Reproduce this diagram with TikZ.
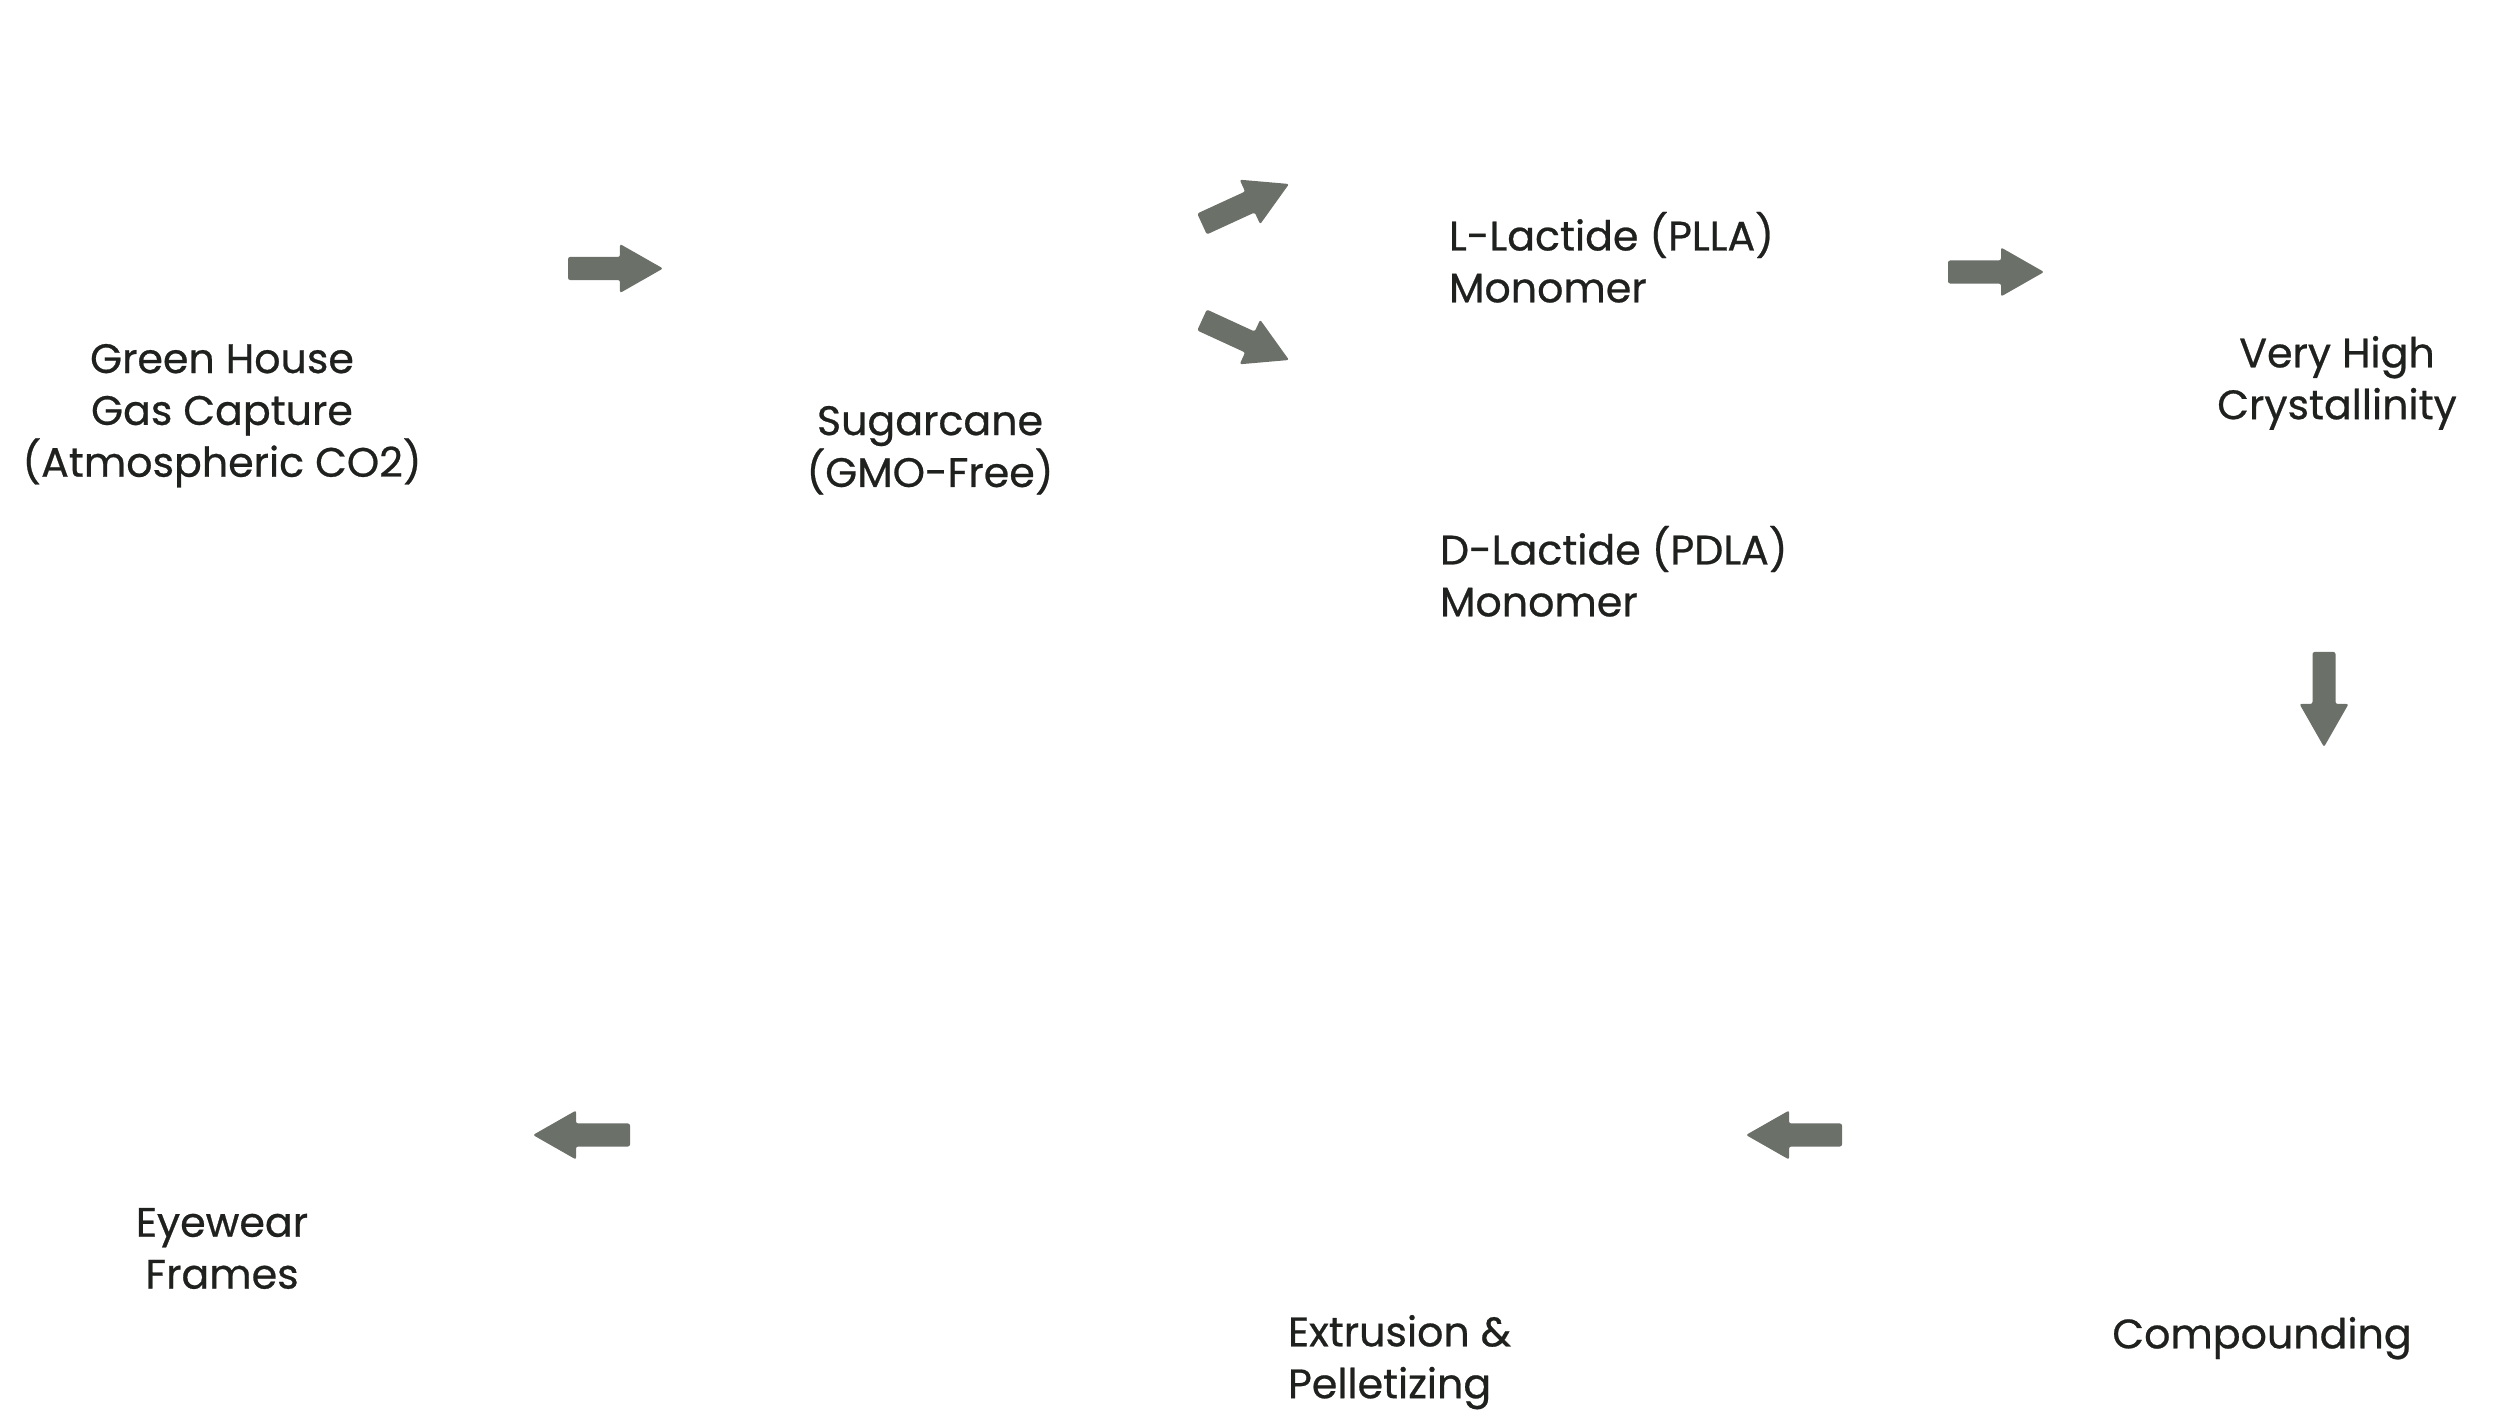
\documentclass[tikz,border=0pt]{standalone}
\usepackage{fontspec}
\setmainfont{Poppins}[FakeBold=0.6]
\usetikzlibrary{calc}
\definecolor{arrowgray}{HTML}{6B7069}
\definecolor{textdark}{HTML}{1F211E}
\newcommand{\fatarrow}[2]{%
  \fill[arrowgray, rounded corners=0.6pt]
    ($(#1)!0.115cm!90:(#2)$) --
    ($($(#2)!0.43cm!(#1)$)!0.115cm!-90:(#1)$) --
    ($($(#2)!0.43cm!(#1)$)!0.245cm!-90:(#1)$) --
    (#2) --
    ($($(#2)!0.43cm!(#1)$)!0.245cm!90:(#1)$) --
    ($($(#2)!0.43cm!(#1)$)!0.115cm!90:(#1)$) --
    ($(#1)!0.115cm!-90:(#2)$) -- cycle;}
\begin{document}
\begin{tikzpicture}[x=0.01cm,y=-0.01cm,
  lbl/.style={inner sep=0pt, outer sep=0pt, text=textdark,
    font=\fontsize{11.7pt}{14.75pt}\selectfont},
  lblc/.style={lbl, align=center, anchor=north},
  lbll/.style={lbl, align=left, anchor=north west}]
\useasboundingbox[fill=white] (0,0) rectangle (2500,1428);

\node[lblc] (ghg) at (222,344) {Green House\\Gas Capture\\(Atmospheric CO2)};
\node[lblc] (sug) at (930,406) {Sugarcane\\(GMO-Free)};
\node[lbll] (plla) at (1449,212) {L-Lactide (PLLA)\\Monomer};
\node[lbll] (pdla) at (1440,526) {D-Lactide (PDLA)\\Monomer};
\node[lblc] (vhc) at (2337,336) {Very High\\Crystallinity};
\node[lblc] (comp) at (2262,1317) {Compounding};
\node[lbll] (ext) at (1288,1315) {Extrusion \&\\Pelletizing};
\node[lblc] (eye) at (222,1208) {Eyewear\\Frames};

\coordinate (a1t) at (568,268.5);  \coordinate (a1h) at (663,268.5);
\coordinate (a2t) at (1202,224);   \coordinate (a2h) at (1289,184);
\coordinate (a3t) at (1202,320);   \coordinate (a3h) at (1289,360);
\coordinate (a4t) at (1948,272);   \coordinate (a4h) at (2044,272);
\coordinate (a5t) at (2324,652);   \coordinate (a5h) at (2324,747);
\coordinate (a6t) at (1842,1135);  \coordinate (a6h) at (1746,1135);
\coordinate (a7t) at (630,1135);   \coordinate (a7h) at (533,1135);

\fatarrow{a1t}{a1h}
\fatarrow{a2t}{a2h}
\fatarrow{a3t}{a3h}
\fatarrow{a4t}{a4h}
\fatarrow{a5t}{a5h}
\fatarrow{a6t}{a6h}
\fatarrow{a7t}{a7h}
\end{tikzpicture}
\end{document}
